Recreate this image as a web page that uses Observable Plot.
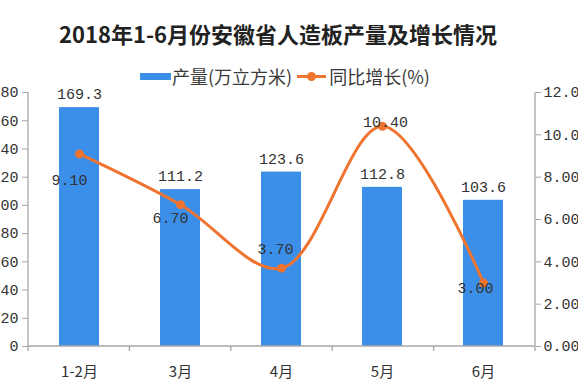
<!DOCTYPE html>
<html><head><meta charset="utf-8">
<script src="https://cdn.jsdelivr.net/npm/d3@7"></script>
<script src="https://cdn.jsdelivr.net/npm/@observablehq/plot@0.6"></script>
<style>
body{margin:0;background:#fff;}
#wrap{position:relative;width:578px;height:392px;overflow:hidden;background:#fff;}
#wrap svg{position:absolute;left:0;top:0;}
#title{position:absolute;left:0;top:17px;width:556px;text-align:center;font:bold 22px "Noto Sans CJK SC";color:#222;white-space:nowrap;line-height:32px;}
#legend{position:absolute;left:140px;top:64px;display:flex;align-items:center;font:18px "Noto Sans CJK SC";color:#3a3a3a;line-height:24px;white-space:nowrap;}
.sw-bar{width:31px;height:7px;background:#3b8fe8;margin-right:1px;}
.sw-line{position:relative;width:29px;height:3px;background:#ee7430;margin:0 3px 0 5px;}
.sw-line::after{content:"";position:absolute;left:10px;top:-3px;width:9px;height:9px;border-radius:50%;background:#ee7430;}
</style></head>
<body><div id="wrap">
<div id="title">2018年1-6月份安徽省人造板产量及增长情况</div>
<div id="legend"><span class="sw-bar"></span><span>产量(万立方米)</span><span class="sw-line"></span><span>同比增长(%)</span></div>
</div>
<script>
const categories = ["1-2月", "3月", "4月", "5月", "6月"];
const output = [169.3, 111.2, 123.6, 112.8, 103.6];
const growth = [9.10, 6.70, 3.70, 10.40, 3.00];
const leftTicks = [0, 20, 40, 60, 80, 100, 120, 140, 160, 180];
const rightTicks = [0, 2, 4, 6, 8, 10, 12];

const leftMax = 180, rightMax = 12, ratio = leftMax / rightMax;
const data = categories.map((c, i) => ({cat: c, output: output[i], growth: growth[i], gy: growth[i] * ratio}));

const axisColor = "#a6a6a6";
const barColor = "#3b8fe8";
const lineColor = "#ee7430";
const numFont = "Liberation Mono";

// axis lines and category separators, derived from the plot's dimensions
const frameMark = (index, scales, values, dims) => {
  const g = d3.create("svg:g").attr("stroke", axisColor).attr("stroke-width", 1.3);
  const x0 = dims.marginLeft, x1 = dims.width - dims.marginRight;
  const y0 = dims.marginTop, y1 = dims.height - dims.marginBottom;
  g.append("line").attr("x1", x0).attr("x2", x0).attr("y1", y0).attr("y2", y1);
  g.append("line").attr("x1", x1).attr("x2", x1).attr("y1", y0).attr("y2", y1);
  g.append("line").attr("x1", x0).attr("x2", x1).attr("y1", y1).attr("y2", y1);
  const n = categories.length;
  for (let i = 0; i <= n; i++) {
    const x = x0 + (x1 - x0) * i / n;
    g.append("line").attr("x1", x).attr("x2", x).attr("y1", y1).attr("y2", y1 + 5);
  }
  return g.node();
};

const rateLabel = (cat, dx, dy) => Plot.text(data, {
  filter: d => d.cat === cat, x: "cat", y: "gy", text: d => d.growth.toFixed(2),
  dx, dy, fill: "#333", fontFamily: numFont, fontSize: 15
});

const chart = Plot.plot({
  width: 578,
  height: 392,
  marginTop: 92,
  marginBottom: 46,
  marginLeft: 28,
  marginRight: 43,
  style: {fontFamily: numFont, fontSize: "15px", color: "#333", background: "transparent"},
  x: {domain: categories, paddingInner: 0.6, paddingOuter: 0.3, label: null},
  y: {domain: [0, leftMax], label: null},
  marks: [
    Plot.barY(data, {x: "cat", y: "output", fill: barColor}),
    Plot.text(data, {x: "cat", y: "output", text: d => d.output.toFixed(1), dy: -13, fill: "#333", fontFamily: numFont, fontSize: 15}),
    Plot.line(data, {x: "cat", y: "gy", stroke: lineColor, strokeWidth: 3, curve: "catmull-rom"}),
    Plot.dot(data, {x: "cat", y: "gy", fill: lineColor, r: 4.5}),
    rateLabel("1-2月", -10, 26),
    rateLabel("3月", -10, 14),
    rateLabel("4月", -6, -19),
    rateLabel("5月", 3, -4),
    rateLabel("6月", -8, 5),
    frameMark,
    Plot.axisY({anchor: "left", ticks: leftTicks, tickSize: 6, tickPadding: 4, stroke: axisColor, fill: "#333", label: null}),
    Plot.axisY({anchor: "right", ticks: rightTicks.map(t => t * ratio), tickFormat: d => (d / ratio).toFixed(2), tickSize: 5, tickPadding: 3, stroke: axisColor, fill: "#333", label: null}),
    Plot.axisX({tickSize: 0, tickPadding: 20, fontFamily: "Noto Sans CJK SC", fontSize: 15, fill: "#333", label: null})
  ]
});
document.getElementById("wrap").prepend(chart);
</script>
</body></html>
